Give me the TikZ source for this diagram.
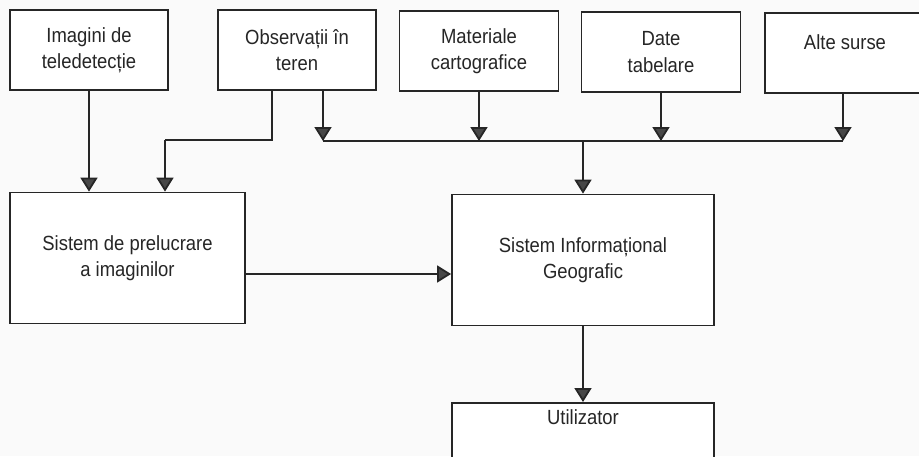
\documentclass[tikz,border=0pt]{standalone}
\usepackage{fontspec}
\setmainfont{Liberation Sans}[FakeStretch=0.9]
\usetikzlibrary{arrows.meta}
\definecolor{ink}{HTML}{262626}
\definecolor{paper}{HTML}{FAFAFA}
\tikzset{
  box/.style={draw=ink, line width=1.8pt, fill=white, inner sep=0pt, align=center,
    font=\fontsize{20.5}{26.5}\selectfont, text=ink},
  conn/.style={draw=ink, line width=1.8pt},
  arr/.style={conn, -{Triangle[length=14pt,width=17pt,fill=ink!85]}},
}
\begin{document}
\begin{tikzpicture}[x=1pt,y=-1pt]
\useasboundingbox (0,0) rectangle (919,456);
\fill[paper] (0,0) rectangle (919,456);
\clip (0,0) rectangle (919,456);
% top row
\node[box, minimum width=158, minimum height=80] (b1) at (89,50) {Imagini de\\teledetecție};
\node[box, minimum width=158, minimum height=80] (b2) at (297,50) {Observații în\\teren};
\node[box, minimum width=159, minimum height=80] (b3) at (479,51) {Materiale\\cartografice};
\node[box, minimum width=159, minimum height=80] (b4) at (661,52) {Date\\tabelare};
\node[box, minimum width=180, minimum height=80,
  label={[box, draw=none, fill=none, yshift=11pt, xshift=-10pt]center:Alte surse}] (b5) at (855,53) {};
% middle row
\node[box, minimum width=235, minimum height=131] (b6) at (127.5,258) {Sistem de prelucrare\\a imaginilor};
\node[box, minimum width=262, minimum height=131] (b7) at (583,260) {Sistem Informațional\\Geografic};
% bottom
\node[box, minimum width=262, minimum height=80, anchor=north,
  label={[box, draw=none, fill=none, anchor=north, yshift=-7pt]north:Utilizator}] (b8) at (583,402) {};
% bus
\coordinate (busL) at (323,141);
\coordinate (busR) at (843,141);
\coordinate (busM) at (583,141);
\coordinate (obsT) at (272,140);
\coordinate (obsL) at (165,140);
\draw[conn] (busL) -- (busR);
% connectors
\draw[arr] (b1.south) -- (b1.south |- b6.north);
\draw[conn] ([xshift=-25pt]b2.south) -- (obsT) -- (obsL);
\draw[arr] (obsL) -- (obsL |- b6.north);
\draw[arr] ([xshift=26pt]b2.south) -- (busL);
\draw[arr] (b3.south) -- (b3.south |- busL);
\draw[arr] (b4.south) -- (b4.south |- busL);
\draw[arr] (busR |- b5.south) -- (busR);
\draw[arr] (busM) -- (busM |- b7.north);
\draw[arr] (b6.east |- 0,274) -- (b7.west |- 0,274);
\draw[arr] (b7.south) -- (b8.north);
\end{tikzpicture}
\end{document}
